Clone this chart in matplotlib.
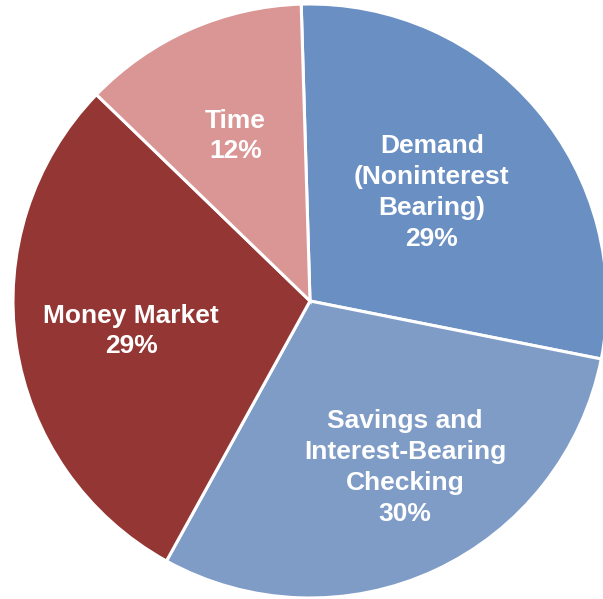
import numpy as np
import matplotlib
matplotlib.use("Agg")
import matplotlib.pyplot as plt

categories = ["Demand\n(Noninterest\nBearing)",
              "Savings and\nInterest-Bearing\nChecking",
              "Money Market",
              "Time"]
values = [28.6, 29.9, 29.2, 12.3]
colors = ["#6A8FC3", "#7F9CC7", "#943634", "#D99694"]
label_dist = [0.55, 0.645, 0.61, 0.61]
label_shift_deg = [1.5, 4.8, 1.0, 0.5]

W, H = 603, 599
fig = plt.figure(figsize=(W / 100, H / 100), dpi=100)
ax = fig.add_axes([0, 0, 1, 1])

cx, cy, R = 310, H - 301, 297
wedges, _ = ax.pie(values, colors=colors, startangle=91.7, counterclock=False,
                   center=(cx, cy), radius=R,
                   wedgeprops=dict(edgecolor="white", linewidth=2.2),
                   frame=True)
ax.set_xlim(0, W)
ax.set_ylim(0, H)
ax.set_aspect("equal")
ax.axis("off")

total = sum(values)
for w, cat, v, d, s in zip(wedges, categories, values, label_dist, label_shift_deg):
    mid = np.deg2rad((w.theta1 + w.theta2) / 2 + s)
    x = cx + d * R * np.cos(mid)
    y = cy + d * R * np.sin(mid)
    ax.text(x, y, f"{cat}\n{v / total * 100:.0f}%", ha="center", va="center",
            color="white", fontsize=19, fontweight="bold",
            family="Liberation Sans", linespacing=1.36)

fig.savefig("out.png", dpi=100)
